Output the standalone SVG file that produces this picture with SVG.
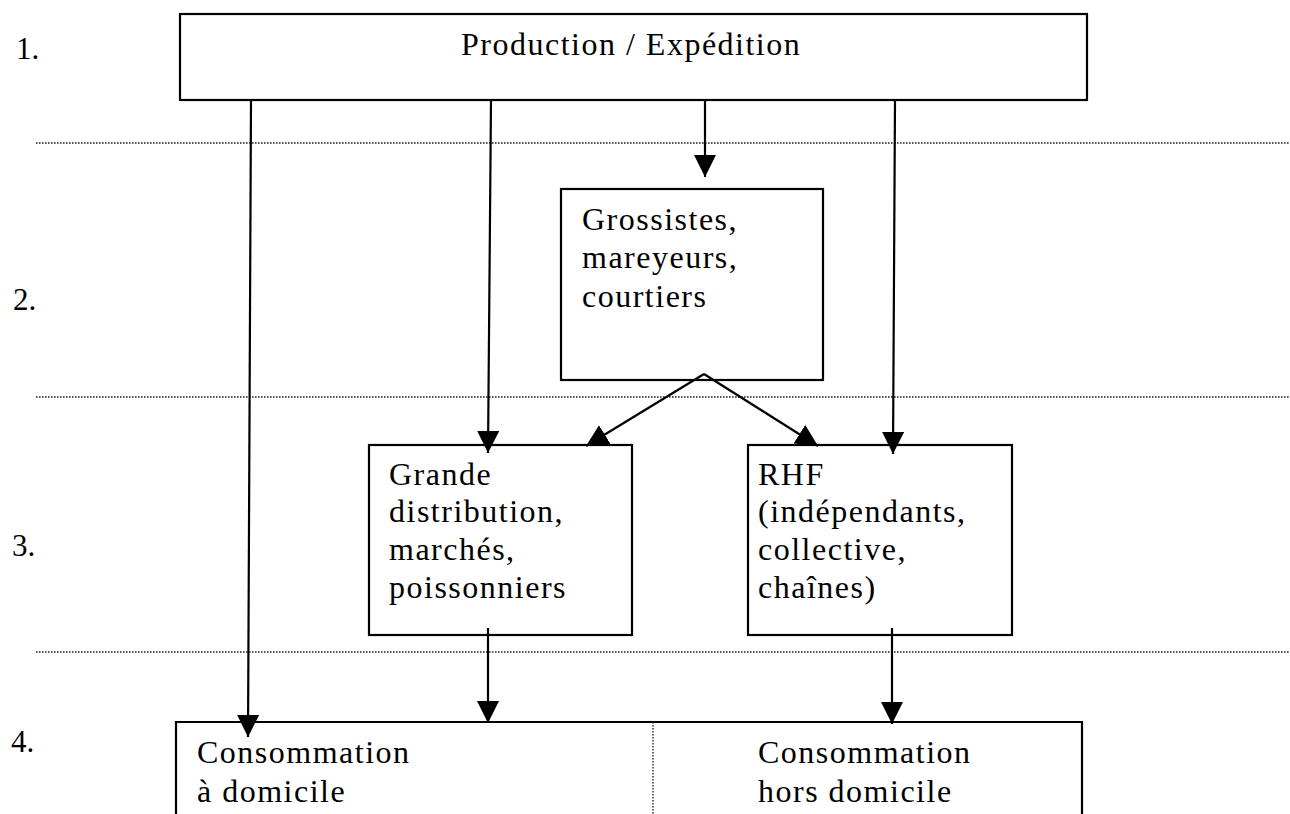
<svg xmlns="http://www.w3.org/2000/svg" width="1290" height="814" viewBox="0 0 1290 814">
<style>
.box{fill:#fff;stroke:#000;stroke-width:2.2}
.t{font-family:"Liberation Serif","Times New Roman",serif;font-size:32px;letter-spacing:1.5px;fill:#000}
.lbl{font-family:"Liberation Serif","Times New Roman",serif;font-size:31px;fill:#000}
.dot{stroke:#222;stroke-width:1.4;stroke-dasharray:1.6 1.4;fill:none}
.c{stroke:#000;stroke-width:2.2;fill:none;marker-end:url(#ah)}
</style>
<defs>
<marker id="ah" markerUnits="userSpaceOnUse" markerWidth="22" markerHeight="22" viewBox="0 0 20 20" refX="20" refY="10" orient="auto">
<path d="M0,0 L20,10 L0,20 Z" fill="#000"/>
</marker>
</defs>
<rect width="1290" height="814" fill="#fff"/>
<g id="levels">
<line class="dot" x1="36" y1="143" x2="1290" y2="143"/>
<line class="dot" x1="36" y1="397" x2="1290" y2="397"/>
<line class="dot" x1="36" y1="652" x2="1290" y2="652"/>
<text class="lbl" x="16" y="59">1.</text>
<text class="lbl" x="13" y="310">2.</text>
<text class="lbl" x="12" y="556">3.</text>
<text class="lbl" x="11" y="752">4.</text>
</g>
<g id="production">
<rect class="box" x="180" y="14" width="907" height="86"/>
<text class="t" x="461" y="55">Production / Expédition</text>
</g>
<g id="grossistes">
<rect class="box" x="561" y="189" width="262" height="191"/>
<text class="t" x="582" y="230">Grossistes,</text>
<text class="t" x="582" y="268">mareyeurs,</text>
<text class="t" x="582" y="307">courtiers</text>
</g>
<g id="grande">
<rect class="box" x="369" y="445" width="263" height="190"/>
<text class="t" x="389" y="485">Grande</text>
<text class="t" x="389" y="522">distribution,</text>
<text class="t" x="389" y="560">marchés,</text>
<text class="t" x="389" y="598">poissonniers</text>
</g>
<g id="rhf">
<rect class="box" x="748" y="445" width="264" height="190"/>
<text class="t" x="758" y="485">RHF</text>
<text class="t" x="758" y="522">(indépendants,</text>
<text class="t" x="758" y="560">collective,</text>
<text class="t" x="758" y="598">chaînes)</text>
</g>
<g id="consommation">
<path class="box" d="M176,816 L176,722 L1082,722 L1082,816"/>
<line class="dot" x1="653" y1="722" x2="653" y2="814"/>
<text class="t" x="197" y="763">Consommation</text>
<text class="t" x="197" y="802">à domicile</text>
<text class="t" x="758" y="763">Consommation</text>
<text class="t" x="758" y="802">hors domicile</text>
</g>
<g id="connectors">
<line class="c" x1="251" y1="100" x2="248" y2="737"/>
<line class="c" x1="491" y1="100" x2="488" y2="453"/>
<line class="c" x1="705" y1="100" x2="705" y2="177"/>
<line class="c" x1="895" y1="100" x2="893" y2="454"/>
<line class="c" x1="704" y1="374" x2="586" y2="446"/>
<line class="c" x1="704" y1="374" x2="818" y2="446"/>
<line class="c" x1="488" y1="628" x2="488" y2="723"/>
<line class="c" x1="892" y1="628" x2="892" y2="724"/>
</g>
</svg>
